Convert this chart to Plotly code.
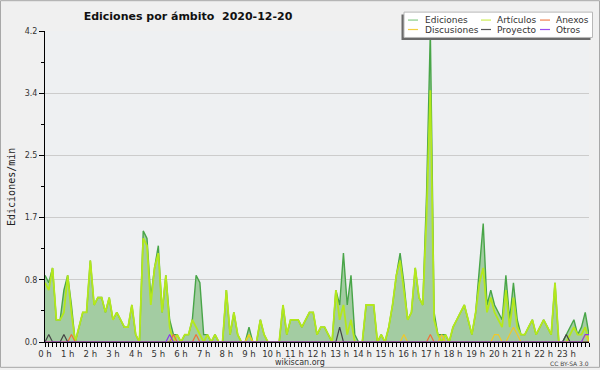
import plotly.graph_objects as go

# 10-minute slots, 0:00 .. 24:00 (hours)
slots = [i / 6 for i in range(145)]
hour_labels = [f"{h} h" for h in range(24)]

ediciones = [
    0.9, 0.8, 1.0, 0.3, 0.3, 0.7,   # 0 h
    0.9, 0.5, 0.0, 0.2, 0.4, 0.4,   # 1 h
    1.1, 0.5, 0.6, 0.6, 0.4, 0.6,   # 2 h
    0.3, 0.4, 0.3, 0.2, 0.2, 0.5,   # 3 h
    0.1, 0.0, 1.5, 1.4, 0.6, 1.0,   # 4 h
    1.3, 0.4, 0.9, 0.3, 0.1, 0.1,   # 5 h
    0.0, 0.1, 0.1, 0.3, 0.9, 0.8,   # 6 h
    0.1, 0.1, 0.0, 0.1, 0.0, 0.0,   # 7 h
    0.7, 0.1, 0.4, 0.1, 0.0, 0.0,   # 8 h
    0.2, 0.0, 0.0, 0.3, 0.1, 0.0,   # 9 h
    0.0, 0.0, 0.0, 0.5, 0.1, 0.3,   # 10 h
    0.3, 0.3, 0.2, 0.3, 0.4, 0.4,   # 11 h
    0.1, 0.2, 0.2, 0.1, 0.0, 0.7,   # 12 h
    0.5, 1.2, 0.5, 0.9, 0.1, 0.0,   # 13 h
    0.0, 0.5, 0.5, 0.5, 0.0, 0.1,   # 14 h
    0.0, 0.2, 0.5, 0.9, 1.2, 0.8,   # 15 h
    0.3, 0.4, 1.0, 0.6, 0.5, 2.0,   # 16 h
    4.2, 0.4, 0.1, 0.1, 0.1, 0.0,   # 17 h
    0.2, 0.3, 0.4, 0.5, 0.3, 0.1,   # 18 h
    0.4, 1.0, 1.6, 0.5, 0.7, 0.5,   # 19 h
    0.4, 0.3, 0.9, 0.3, 0.8, 0.3,   # 20 h
    0.1, 0.1, 0.2, 0.3, 0.1, 0.2,   # 21 h
    0.3, 0.2, 0.1, 0.8, 0.0, 0.0,   # 22 h
    0.1, 0.2, 0.3, 0.1, 0.2, 0.4,   # 23 h
    0.1,
]

articulos = [
    0.8, 0.7, 1.0, 0.3, 0.3, 0.4,
    0.9, 0.4, 0.0, 0.2, 0.4, 0.4,
    1.1, 0.5, 0.6, 0.6, 0.4, 0.6,
    0.3, 0.4, 0.3, 0.2, 0.2, 0.5,
    0.1, 0.0, 1.4, 1.3, 0.5, 1.0,
    1.2, 0.4, 0.9, 0.2, 0.0, 0.1,
    0.0, 0.1, 0.1, 0.3, 0.2, 0.1,
    0.0, 0.1, 0.0, 0.1, 0.0, 0.0,
    0.7, 0.1, 0.4, 0.1, 0.0, 0.0,
    0.1, 0.0, 0.0, 0.3, 0.1, 0.0,
    0.0, 0.0, 0.0, 0.5, 0.1, 0.3,
    0.3, 0.3, 0.2, 0.3, 0.4, 0.4,
    0.1, 0.2, 0.2, 0.1, 0.0, 0.7,
    0.3, 0.5, 0.1, 0.3, 0.0, 0.0,
    0.0, 0.5, 0.5, 0.5, 0.0, 0.1,
    0.0, 0.2, 0.5, 0.9, 1.1, 0.7,
    0.3, 0.4, 1.0, 0.6, 0.5, 1.7,
    3.4, 0.3, 0.1, 0.0, 0.1, 0.0,
    0.2, 0.3, 0.4, 0.5, 0.3, 0.1,
    0.4, 0.8, 1.0, 0.4, 0.6, 0.4,
    0.3, 0.2, 0.7, 0.2, 0.6, 0.2,
    0.1, 0.1, 0.2, 0.3, 0.1, 0.2,
    0.3, 0.2, 0.1, 0.8, 0.0, 0.0,
    0.0, 0.1, 0.2, 0.1, 0.1, 0.2,
    0.0,
]

# non-zero 10-minute slots of the small series
anexos_pts = {7: 0.1, 34: 0.1, 40: 0.1, 102: 0.1}
discusiones_pts = {54: 0.1, 95: 0.1, 105: 0.1, 119: 0.1, 120: 0.1,
                   123: 0.1, 124: 0.2, 125: 0.1, 143: 0.1}
proyecto_pts = {1: 0.1, 5: 0.1, 78: 0.2, 138: 0.1}
otros_pts = {33: 0.1, 143: 0.1, 144: 0.1}


def expand(pts):
    return [pts.get(i, 0.0) for i in range(len(slots))]


anexos = expand(anexos_pts)
discusiones = expand(discusiones_pts)
proyecto = expand(proyecto_pts)
otros = expand(otros_pts)

y_tickvals = [0, 0.84, 1.68, 2.52, 3.36, 4.2]
y_ticktext = ["0.0", "0.8", "1.7", "2.5", "3.4", "4.2"]

FONT = "DejaVu Sans"

# plot area in pixels
L, R, T, B = 45, 589, 31, 344
W, H = R - L, B - T


def X(px):
    return (px - L) / W


def Y(py):
    return (B - py) / H


fig = go.Figure()
fig.add_trace(go.Scatter(x=slots, y=ediciones, mode="lines", name="Ediciones",
                         line=dict(color="#48a548", width=1.4),
                         fill="tozeroy", fillcolor="#a3cca2"))
fig.add_trace(go.Scatter(x=slots, y=articulos, mode="lines", name="Artículos",
                         line=dict(color="#b4e81c", width=1.8)))
fig.add_trace(go.Scatter(x=slots, y=discusiones, mode="lines", name="Discusiones",
                         line=dict(color="#f0c828", width=1.2)))
fig.add_trace(go.Scatter(x=slots, y=anexos, mode="lines", name="Anexos",
                         line=dict(color="#f07038", width=1.2)))
fig.add_trace(go.Scatter(x=slots, y=proyecto, mode="lines", name="Proyecto",
                         line=dict(color="#444444", width=1.2)))
fig.add_trace(go.Scatter(x=slots, y=otros, mode="lines", name="Otros",
                         line=dict(color="#8a3ae8", width=1.2)))

shapes = [
    # outer frame
    dict(type="rect", xref="paper", yref="paper", x0=X(0.5), x1=X(599.5),
         y0=Y(369.5), y1=Y(0.5), line=dict(color="#a8a8a8", width=1)),
    # legend shadow and box
    dict(type="rect", xref="paper", yref="paper", x0=X(401.5), x1=X(590.5),
         y0=Y(40), y1=Y(14.5), fillcolor="#6a6a6a", line=dict(width=0)),
    dict(type="rect", xref="paper", yref="paper", x0=X(404), x1=X(592.5),
         y0=Y(37.5), y1=Y(12), fillcolor="white",
         line=dict(color="#b8b8b8", width=1)),
]
annotations = []

legend_items = [
    ("Ediciones", "#88cc88", 408, 424, 20),
    ("Artículos", "#ccee55", 481, 496, 20),
    ("Anexos", "#f08050", 540, 554.5, 20),
    ("Discusiones", "#f2d040", 408, 424, 29.5),
    ("Proyecto", "#555555", 481, 496, 29.5),
    ("Otros", "#9a4ef0", 540, 554.5, 29.5),
]
for label, color, lx, tx, ly in legend_items:
    shapes.append(dict(type="line", xref="paper", yref="paper",
                       x0=X(lx), x1=X(lx + 10), y0=Y(ly), y1=Y(ly),
                       line=dict(color=color, width=1.2)))
    annotations.append(dict(text=label, xref="paper", yref="paper",
                            x=X(tx - 1), y=Y(ly), xanchor="left", yanchor="middle",
                            showarrow=False,
                            font=dict(family=FONT, size=9, color="#333333")))

annotations += [
    dict(text="Ediciones/min", xref="paper", yref="paper", x=X(12), y=Y(188),
         textangle=-90, showarrow=False, xanchor="center", yanchor="middle",
         font=dict(family="DejaVu Sans Mono", size=10, color="#222222")),
    dict(text="wikiscan.org", xref="paper", yref="paper", x=X(300), y=Y(364.5),
         showarrow=False, xanchor="center", yanchor="middle", borderpad=0,
         font=dict(family=FONT, size=8, color="#333333")),
    dict(text="CC BY-SA 3.0", xref="paper", yref="paper", x=X(590), y=Y(365.5),
         showarrow=False, xanchor="right", yanchor="middle", borderpad=0,
         font=dict(family=FONT, size=6, color="#444444")),
]

fig.update_layout(
    width=600, height=370,
    margin=dict(l=L, r=600 - R, t=T, b=370 - B, pad=0),
    paper_bgcolor="#f0f0f0",
    plot_bgcolor="#eef0f2",
    showlegend=False,
    title=dict(text="<b>Ediciones por ámbito\u00a0 2020-12-20</b>",
               x=188 / 600, xref="container", xanchor="center",
               y=1 - 16 / 370, yref="container", yanchor="middle",
               font=dict(family=FONT, size=11, color="#111111")),
    xaxis=dict(range=[0, 24], tickvals=list(range(24)), ticktext=hour_labels,
               ticks="outside", ticklen=4, tickwidth=1, tickcolor="black",
               showline=True, linecolor="black", linewidth=1,
               showgrid=False, zeroline=False, fixedrange=True,
               tickfont=dict(family=FONT, size=8.5, color="#333333"),
               minor=dict(dtick=1 / 6, tick0=0, ticks="outside", ticklen=4,
                          tickcolor="black", showgrid=False)),
    yaxis=dict(range=[0, 4.2], tickvals=y_tickvals, ticktext=y_ticktext,
               ticks="outside", ticklen=5, tickwidth=1, tickcolor="black",
               showline=True, linecolor="black", linewidth=1,
               showgrid=True, gridcolor="#cccccc", gridwidth=1,
               zeroline=False, fixedrange=True,
               tickfont=dict(family=FONT, size=8, color="#333333"),
               minor=dict(dtick=0.42, tick0=0, ticks="outside", ticklen=3,
                          tickcolor="black", showgrid=False)),
    shapes=shapes,
    annotations=annotations,
)

fig.write_html(
    "out.html",
    config={"displayModeBar": False},
    post_script="document.body.style.margin='0px';document.body.style.overflow='hidden';",
)
